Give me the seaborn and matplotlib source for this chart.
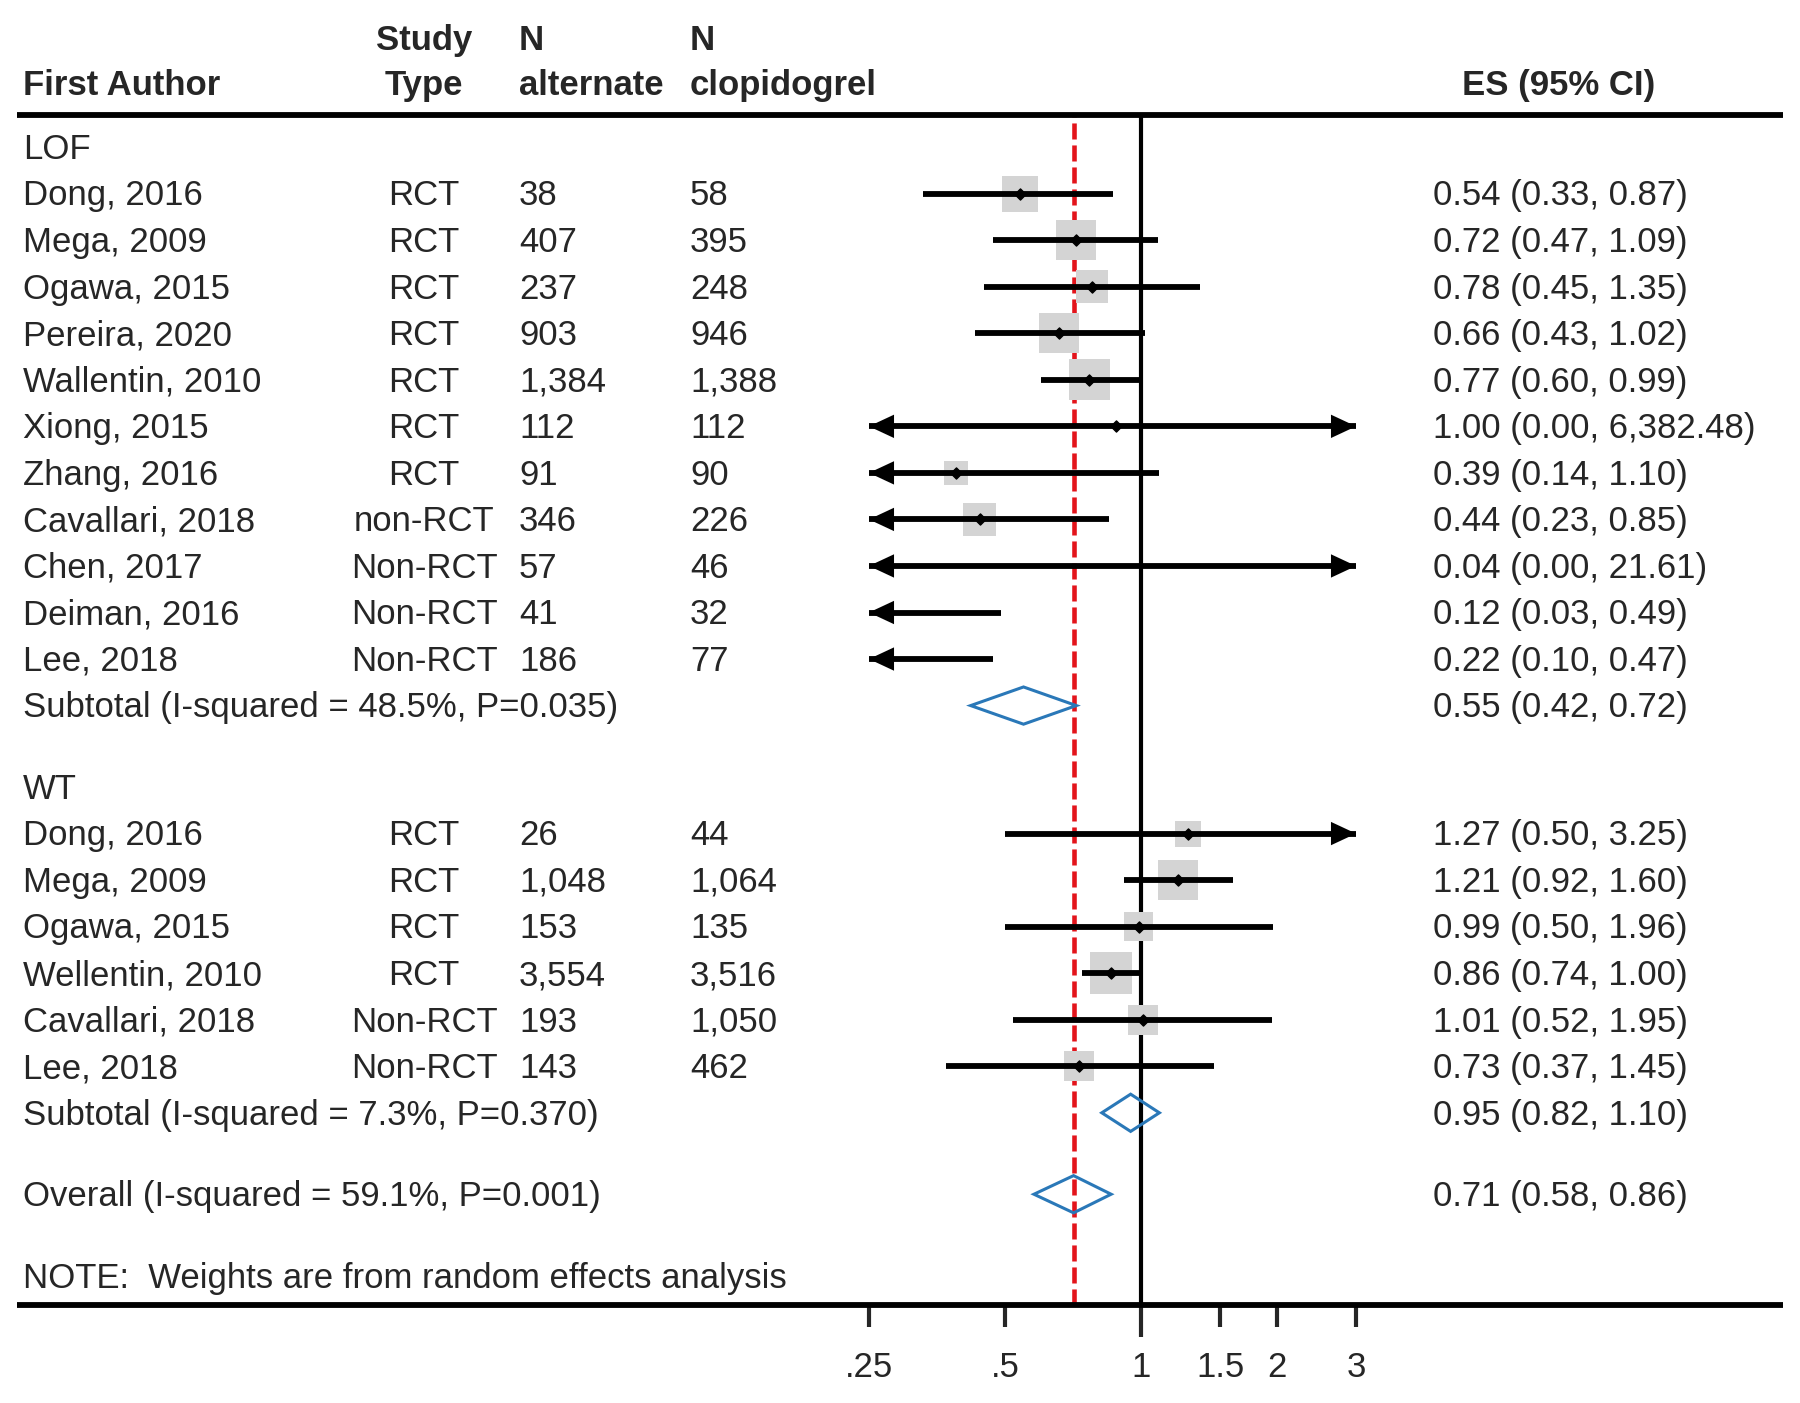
import numpy as np
import matplotlib.pyplot as plt
import seaborn as sns
from matplotlib.patches import Polygon
from matplotlib.transforms import blended_transform_factory

# ---- data ----
lof_authors = ["Dong, 2016", "Mega, 2009", "Ogawa, 2015", "Pereira, 2020", "Wallentin, 2010",
               "Xiong, 2015", "Zhang, 2016", "Cavallari, 2018", "Chen, 2017", "Deiman, 2016", "Lee, 2018"]
lof_type = ["RCT", "RCT", "RCT", "RCT", "RCT", "RCT", "RCT", "non-RCT", "Non-RCT", "Non-RCT", "Non-RCT"]
lof_n_alt = [38, 407, 237, 903, 1384, 112, 91, 346, 57, 41, 186]
lof_n_clop = [58, 395, 248, 946, 1388, 112, 90, 226, 46, 32, 77]
lof_es = [0.54, 0.72, 0.78, 0.66, 0.77, 0.88, 0.39, 0.44, 0.04, 0.12, 0.22]
lof_lo = [0.33, 0.47, 0.45, 0.43, 0.60, 0.001, 0.14, 0.23, 0.001, 0.03, 0.10]
lof_hi = [0.87, 1.09, 1.35, 1.02, 0.99, 6382.48, 1.10, 0.85, 21.61, 0.49, 0.47]
lof_weight = [7.7, 9.5, 6.4, 9.5, 9.9, 0.05, 3.4, 6.4, 0.07, 2.3, 5.0]
lof_label = ["0.54 (0.33, 0.87)", "0.72 (0.47, 1.09)", "0.78 (0.45, 1.35)", "0.66 (0.43, 1.02)",
             "0.77 (0.60, 0.99)", "1.00 (0.00, 6,382.48)", "0.39 (0.14, 1.10)", "0.44 (0.23, 0.85)",
             "0.04 (0.00, 21.61)", "0.12 (0.03, 0.49)", "0.22 (0.10, 0.47)"]

wt_authors = ["Dong, 2016", "Mega, 2009", "Ogawa, 2015", "Wellentin, 2010", "Cavallari, 2018", "Lee, 2018"]
wt_type = ["RCT", "RCT", "RCT", "RCT", "Non-RCT", "Non-RCT"]
wt_n_alt = [26, 1048, 153, 3554, 193, 143]
wt_n_clop = [44, 1064, 135, 3516, 1050, 462]
wt_es = [1.27, 1.21, 0.99, 0.86, 1.01, 0.73]
wt_lo = [0.50, 0.92, 0.50, 0.74, 0.52, 0.37]
wt_hi = [3.25, 1.60, 1.96, 1.00, 1.95, 1.45]
wt_weight = [4.0, 9.5, 4.9, 10.4, 5.4, 5.4]
wt_label = ["1.27 (0.50, 3.25)", "1.21 (0.92, 1.60)", "0.99 (0.50, 1.96)", "0.86 (0.74, 1.00)",
            "1.01 (0.52, 1.95)", "0.73 (0.37, 1.45)"]

pooled_names = ["Subtotal (I-squared = 48.5%, P=0.035)", "Subtotal (I-squared = 7.3%, P=0.370)",
                "Overall (I-squared = 59.1%, P=0.001)"]
pooled_es = [0.55, 0.95, 0.71]
pooled_lo = [0.42, 0.82, 0.58]
pooled_hi = [0.72, 1.10, 0.86]
pooled_label = ["0.55 (0.42, 0.72)", "0.95 (0.82, 1.10)", "0.71 (0.58, 0.86)"]

tick_vals = [0.25, 0.5, 1, 1.5, 2, 3]
tick_labels = [".25", ".5", "1", "1.5", "2", "3"]

# ---- layout (row units) ----
lof_rows = np.arange(1, 12)
wt_rows = 14.75 + np.arange(6)
pooled_rows = [12, 20.75, 22.5]

sns.set_style("white")
plt.rcParams["font.family"] = ["Liberation Sans", "DejaVu Sans"]
FS = 25

W, H = 1800, 1403
fig = plt.figure(figsize=(W / 100, H / 100), dpi=100)
ax = fig.add_axes([869 / W, (H - 1305) / H, (1356 - 869) / W, (1305 - 115) / H])
ax.set_xscale("log")
xmin, xmax = 0.25, 3.0
ax.set_xlim(xmin, xmax)
ax.set_ylim(24.88, -0.69)
for s in ax.spines.values():
    s.set_visible(False)
ax.set_xticks(tick_vals)
ax.set_xticklabels(tick_labels)
ax.minorticks_off()
ax.tick_params(axis="x", direction="out", length=16, width=3, pad=17, labelsize=FS, bottom=True)
ax.xaxis.get_major_ticks()[2].tick1line.set_markersize(23)
ax.set_yticks([])

trans = blended_transform_factory(fig.transFigure, ax.transData)

# reference lines
ax.axvline(1, color="black", lw=3, zorder=1)
ax.axvline(pooled_es[2], color="#e3141b", lw=3.3, dashes=(3.5, 1.3), zorder=1)

# horizontal rules
for yy in (-0.69, 24.88):
    ax.plot([17 / W, 1783 / W], [yy, yy], transform=trans, clip_on=False, color="black",
            lw=4.2, solid_capstyle="butt", zorder=5)

es = np.array(lof_es + wt_es)
lo = np.array(lof_lo + wt_lo)
hi = np.array(lof_hi + wt_hi)
wts = np.array(lof_weight + wt_weight)
rows = np.concatenate([lof_rows, wt_rows])

inside = (es >= xmin) & (es <= xmax)
sns.scatterplot(x=es[inside], y=rows[inside], size=wts[inside], sizes=(0, 914), size_norm=(0, 10.4),
                marker="s", color="#d4d4d4", linewidth=0, legend=False, ax=ax, zorder=2)

a = np.clip(lo, xmin, xmax)
b = np.clip(hi, xmin, xmax)
ax.hlines(rows, a, b, color="black", lw=4.2, capstyle="butt", zorder=3)
arrow = dict(arrowstyle="-|>,head_length=0.6,head_width=0.28", mutation_scale=30,
             color="black", lw=0.01, shrinkA=0, shrinkB=0)
for y, l, h in zip(rows, lo, hi):
    if l < xmin:
        ax.annotate("", xy=(xmin, y), xytext=(xmin * 1.1, y), arrowprops=arrow, zorder=4)
    if h > xmax:
        ax.annotate("", xy=(xmax, y), xytext=(xmax / 1.1, y), arrowprops=arrow, zorder=4)
ax.scatter(es[inside], rows[inside], marker="D", s=32, color="black", zorder=4)

# pooled diamonds
for y, e, l, h in zip(pooled_rows, pooled_es, pooled_lo, pooled_hi):
    ax.add_patch(Polygon([(l, y), (e, y - 0.4), (h, y), (e, y + 0.4)], closed=True,
                         fill=False, edgecolor="#2a78b8", lw=2.2, zorder=4))

# ---- text columns ----
DY = 0.05


def txt(x, y, s, ha="left", bold=False):
    ax.text(x / W, y + DY, s, transform=trans, ha=ha, va="center", fontsize=FS,
            fontweight="bold" if bold else "normal", clip_on=False)


txt(23, -1.38, "First Author", bold=True)
txt(424, -2.34, "Study", ha="center", bold=True)
txt(424, -1.38, "Type", ha="center", bold=True)
txt(519, -2.34, "N", bold=True)
txt(519, -1.38, "alternate", bold=True)
txt(690, -2.34, "N", bold=True)
txt(690, -1.38, "clopidogrel", bold=True)
txt(1559, -1.38, "ES (95% CI)", ha="center", bold=True)

txt(23, 0, "LOF")
txt(23, 13.75, "WT")
for grp_rows, names, types, na, nc, labs in [
        (lof_rows, lof_authors, lof_type, lof_n_alt, lof_n_clop, lof_label),
        (wt_rows, wt_authors, wt_type, wt_n_alt, wt_n_clop, wt_label)]:
    for y, nm, tp, n1, n2, lb in zip(grp_rows, names, types, na, nc, labs):
        txt(23, y, nm)
        txt(424, y, tp, ha="center")
        txt(519, y, f"{n1:,}")
        txt(690, y, f"{n2:,}")
        txt(1433, y, lb)
for y, nm, lb in zip(pooled_rows, pooled_names, pooled_label):
    txt(23, y, nm)
    txt(1433, y, lb)
txt(23, 24.25, "NOTE:  Weights are from random effects analysis")

fig.savefig("out.png", dpi=100)
